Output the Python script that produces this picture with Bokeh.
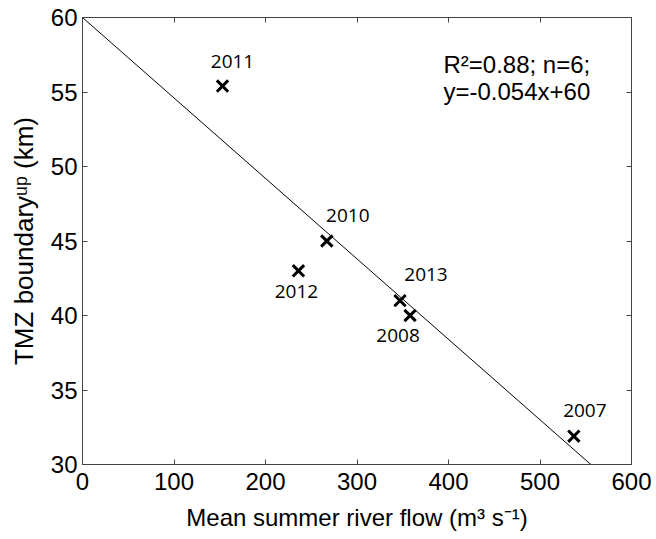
from bokeh.plotting import figure
from bokeh.models import Range1d, LinearAxis, FixedTicker, ColumnDataSource, Label
from bokeh.core.properties import value
from bokeh.embed import file_html
from bokeh.resources import INLINE

# data
years = ["2011", "2010", "2012", "2013", "2008", "2007"]
flow = [153, 267, 236, 347, 358, 537]
boundary = [55.4, 45.0, 43.0, 41.0, 40.0, 31.9]
label_dx = [10, 21, -2, 26, -12, 11]
label_dy = [-25, -26, 21, -26, 20, -26]
slope = -0.054
intercept = 60
x_ticks = [0, 100, 200, 300, 400, 500, 600]
y_ticks = [30, 35, 40, 45, 50, 55, 60]

TICK_FONT = "Liberation Sans"
FS = "24px"
p = figure(frame_width=549, frame_height=447, output_backend="svg", toolbar_location=None,
           x_range=Range1d(0, 600), y_range=Range1d(30, 60),
           min_border_left=82, min_border_right=23, min_border_top=17, min_border_bottom=74)
p.grid.visible = False
p.outline_line_color = "#444444"
p.outline_line_width = 1
p.background_fill_color = "white"
p.border_fill_color = "white"

p.xaxis.ticker = FixedTicker(ticks=x_ticks)
p.yaxis.ticker = FixedTicker(ticks=y_ticks)
for ax in [p.xaxis[0], p.yaxis[0]]:
    ax.major_tick_in = 5
    ax.major_tick_out = 0
    ax.minor_tick_line_color = None
    ax.axis_line_color = "#444444"
    ax.major_tick_line_color = "#444444"
    ax.major_label_text_font = TICK_FONT
    ax.major_label_text_font_size = FS
    ax.major_label_text_color = "black"
    ax.axis_label_text_font = TICK_FONT
    ax.axis_label_text_font_style = "normal"
    ax.axis_label_text_color = "black"
p.xaxis.axis_label = "Mean summer river flow (m\u00b3 s\u207b\u00b9)"
p.yaxis.axis_label = "TMZ boundary\u1d58\u1d56 (km)"
p.xaxis.axis_label_text_font_size = FS
p.yaxis.axis_label_text_font_size = "26px"
p.xaxis.major_label_standoff = 8
p.yaxis.major_label_standoff = 5
p.xaxis.axis_label_standoff = 11
p.yaxis.axis_label_standoff = 9

top = LinearAxis(ticker=FixedTicker(ticks=x_ticks),
                 major_label_overrides={t: "" for t in x_ticks})
right = LinearAxis(ticker=FixedTicker(ticks=y_ticks),
                   major_label_overrides={t: "" for t in y_ticks})
for ax in [top, right]:
    ax.major_tick_in = 5
    ax.major_tick_out = 0
    ax.minor_tick_line_color = None
    ax.axis_line_color = "#444444"
    ax.major_tick_line_color = "#444444"
    ax.major_label_text_font_size = "1px"
    ax.major_label_standoff = 0
p.add_layout(top, "above")
p.add_layout(right, "right")

# regression line
x_end = (30 - intercept) / slope
lx = [0, x_end]
ly = [slope * v + intercept for v in lx]
p.line(lx, ly, line_color="black", line_width=1)

src = ColumnDataSource(dict(x=flow, y=boundary, t=years, dx=label_dx, dy=label_dy))
p.scatter("x", "y", source=src, marker="x", size=16, line_color="black", line_width=3)
p.text("x", "y", text="t", source=src, x_offset="dx", y_offset="dy",
       text_align="center", text_baseline="middle",
       text_font=value("Open Sans"), text_font_size="19px", text_color="black")

p.add_layout(Label(x=394.5, y=56.85, text="R\u00b2=0.88; n=6;", text_baseline="middle",
                   text_font=TICK_FONT, text_font_size=FS, text_color="black"))
p.add_layout(Label(x=394.5, y=55.03, text="y=-0.054x+60", text_baseline="middle",
                   text_font=TICK_FONT, text_font_size=FS, text_color="black"))

open("out.html", "w").write(file_html(p, INLINE))
